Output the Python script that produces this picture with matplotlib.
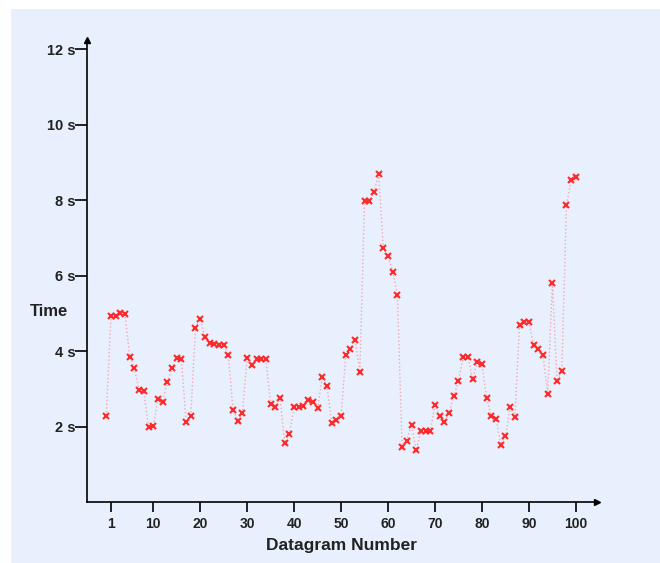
import matplotlib
matplotlib.use("Agg")
import matplotlib.pyplot as plt
import numpy as np
from matplotlib.patches import Rectangle

# datagram number (0..100) and time in seconds
datagram = list(range(0, 101))
time_s = [
    2.28, 4.92, 4.92, 5.01, 4.98, 3.85, 3.54, 2.97, 2.94, 1.98,
    2.01, 2.72, 2.66, 3.17, 3.54, 3.83, 3.79, 2.11, 2.29, 4.61,
    4.85, 4.38, 4.21, 4.18, 4.17, 4.17, 3.89, 2.45, 2.16, 2.36,
    3.82, 3.64, 3.78, 3.78, 3.78, 2.60, 2.53, 2.76, 1.57, 1.81,
    2.53, 2.53, 2.55, 2.71, 2.64, 2.48, 3.31, 3.07, 2.10, 2.18,
    2.27, 3.90, 4.06, 4.29, 3.45, 7.97, 7.97, 8.21, 8.69, 6.73,
    6.51, 6.11, 5.50, 1.45, 1.63, 2.04, 1.38, 1.87, 1.87, 1.89,
    2.56, 2.29, 2.11, 2.36, 2.80, 3.20, 3.85, 3.85, 3.27, 3.71,
    3.65, 2.75, 2.28, 2.21, 1.52, 1.74, 2.51, 2.25, 4.68, 4.78,
    4.78, 4.15, 4.06, 3.90, 2.87, 5.81, 3.21, 3.48, 7.87, 8.54,
    8.62,
]
x_ticks = [1, 10, 20, 30, 40, 50, 60, 70, 80, 90, 100]
y_ticks = [2, 4, 6, 8, 10, 12]
y_tick_labels = ["2 s", "4 s", "6 s", "8 s", "10 s", "12 s"]

plt.rcParams['font.family'] = ['Liberation Sans', 'DejaVu Sans']

W, H = 660, 563
fig = plt.figure(figsize=(W / 100, H / 100), dpi=100, facecolor='white')

# light blue panel behind everything
fig.patches.append(Rectangle((11 / W, -0.01), 1.01 - 11 / W, 1.01 - 9 / H,
                             transform=fig.transFigure, facecolor='#e7f0fc',
                             edgecolor='none', zorder=-10))

ax = fig.add_axes([87 / W, 1 - 502 / H, (597 - 87) / W, (502 - 40) / H])
ax.set_facecolor('none')
ax.set_zorder(5)

ax.plot(datagram, time_s, linestyle=':', color='#f4a6b4', linewidth=1.0,
        marker='x', markersize=4.5, markeredgewidth=1.5,
        markeredgecolor='#ff2a2a', zorder=3)

ax.set_xlim(-4.1, 104.5)
ax.set_ylim(0, 12.25)

for s in ['top', 'right']:
    ax.spines[s].set_visible(False)
for s in ['left', 'bottom']:
    ax.spines[s].set_linewidth(1.2)
    ax.spines[s].set_color('black')

# arrow heads on the axes
ax.plot(1, 0, '>', color='black', markersize=5, transform=ax.transAxes, clip_on=False)
ax.plot(0, 1, '^', color='black', markersize=5, transform=ax.transAxes, clip_on=False)

ax.set_xticks(x_ticks)
ax.set_xticklabels([str(t) for t in x_ticks], fontweight='bold', fontsize=10)
ax.set_yticks(y_ticks)
ax.set_yticklabels(y_tick_labels, fontweight='bold', fontsize=10.5)
ax.tick_params(axis='x', direction='out', length=7, width=1.2, pad=4, colors='black')
ax.tick_params(axis='y', direction='out', length=8.5, width=1.2, pad=0, colors='black')
for lab in ax.get_xticklabels() + ax.get_yticklabels():
    lab.set_color('#222222')

ax.set_xlabel('Datagram Number', fontweight='bold', fontsize=12.5, labelpad=5,
              color='#222222')
fig.text(49 / W, 1 - 312 / H, 'Time', fontweight='bold', fontsize=12,
         ha='center', va='center', color='#222222')

fig.savefig('out.png', dpi=100, facecolor='white')
